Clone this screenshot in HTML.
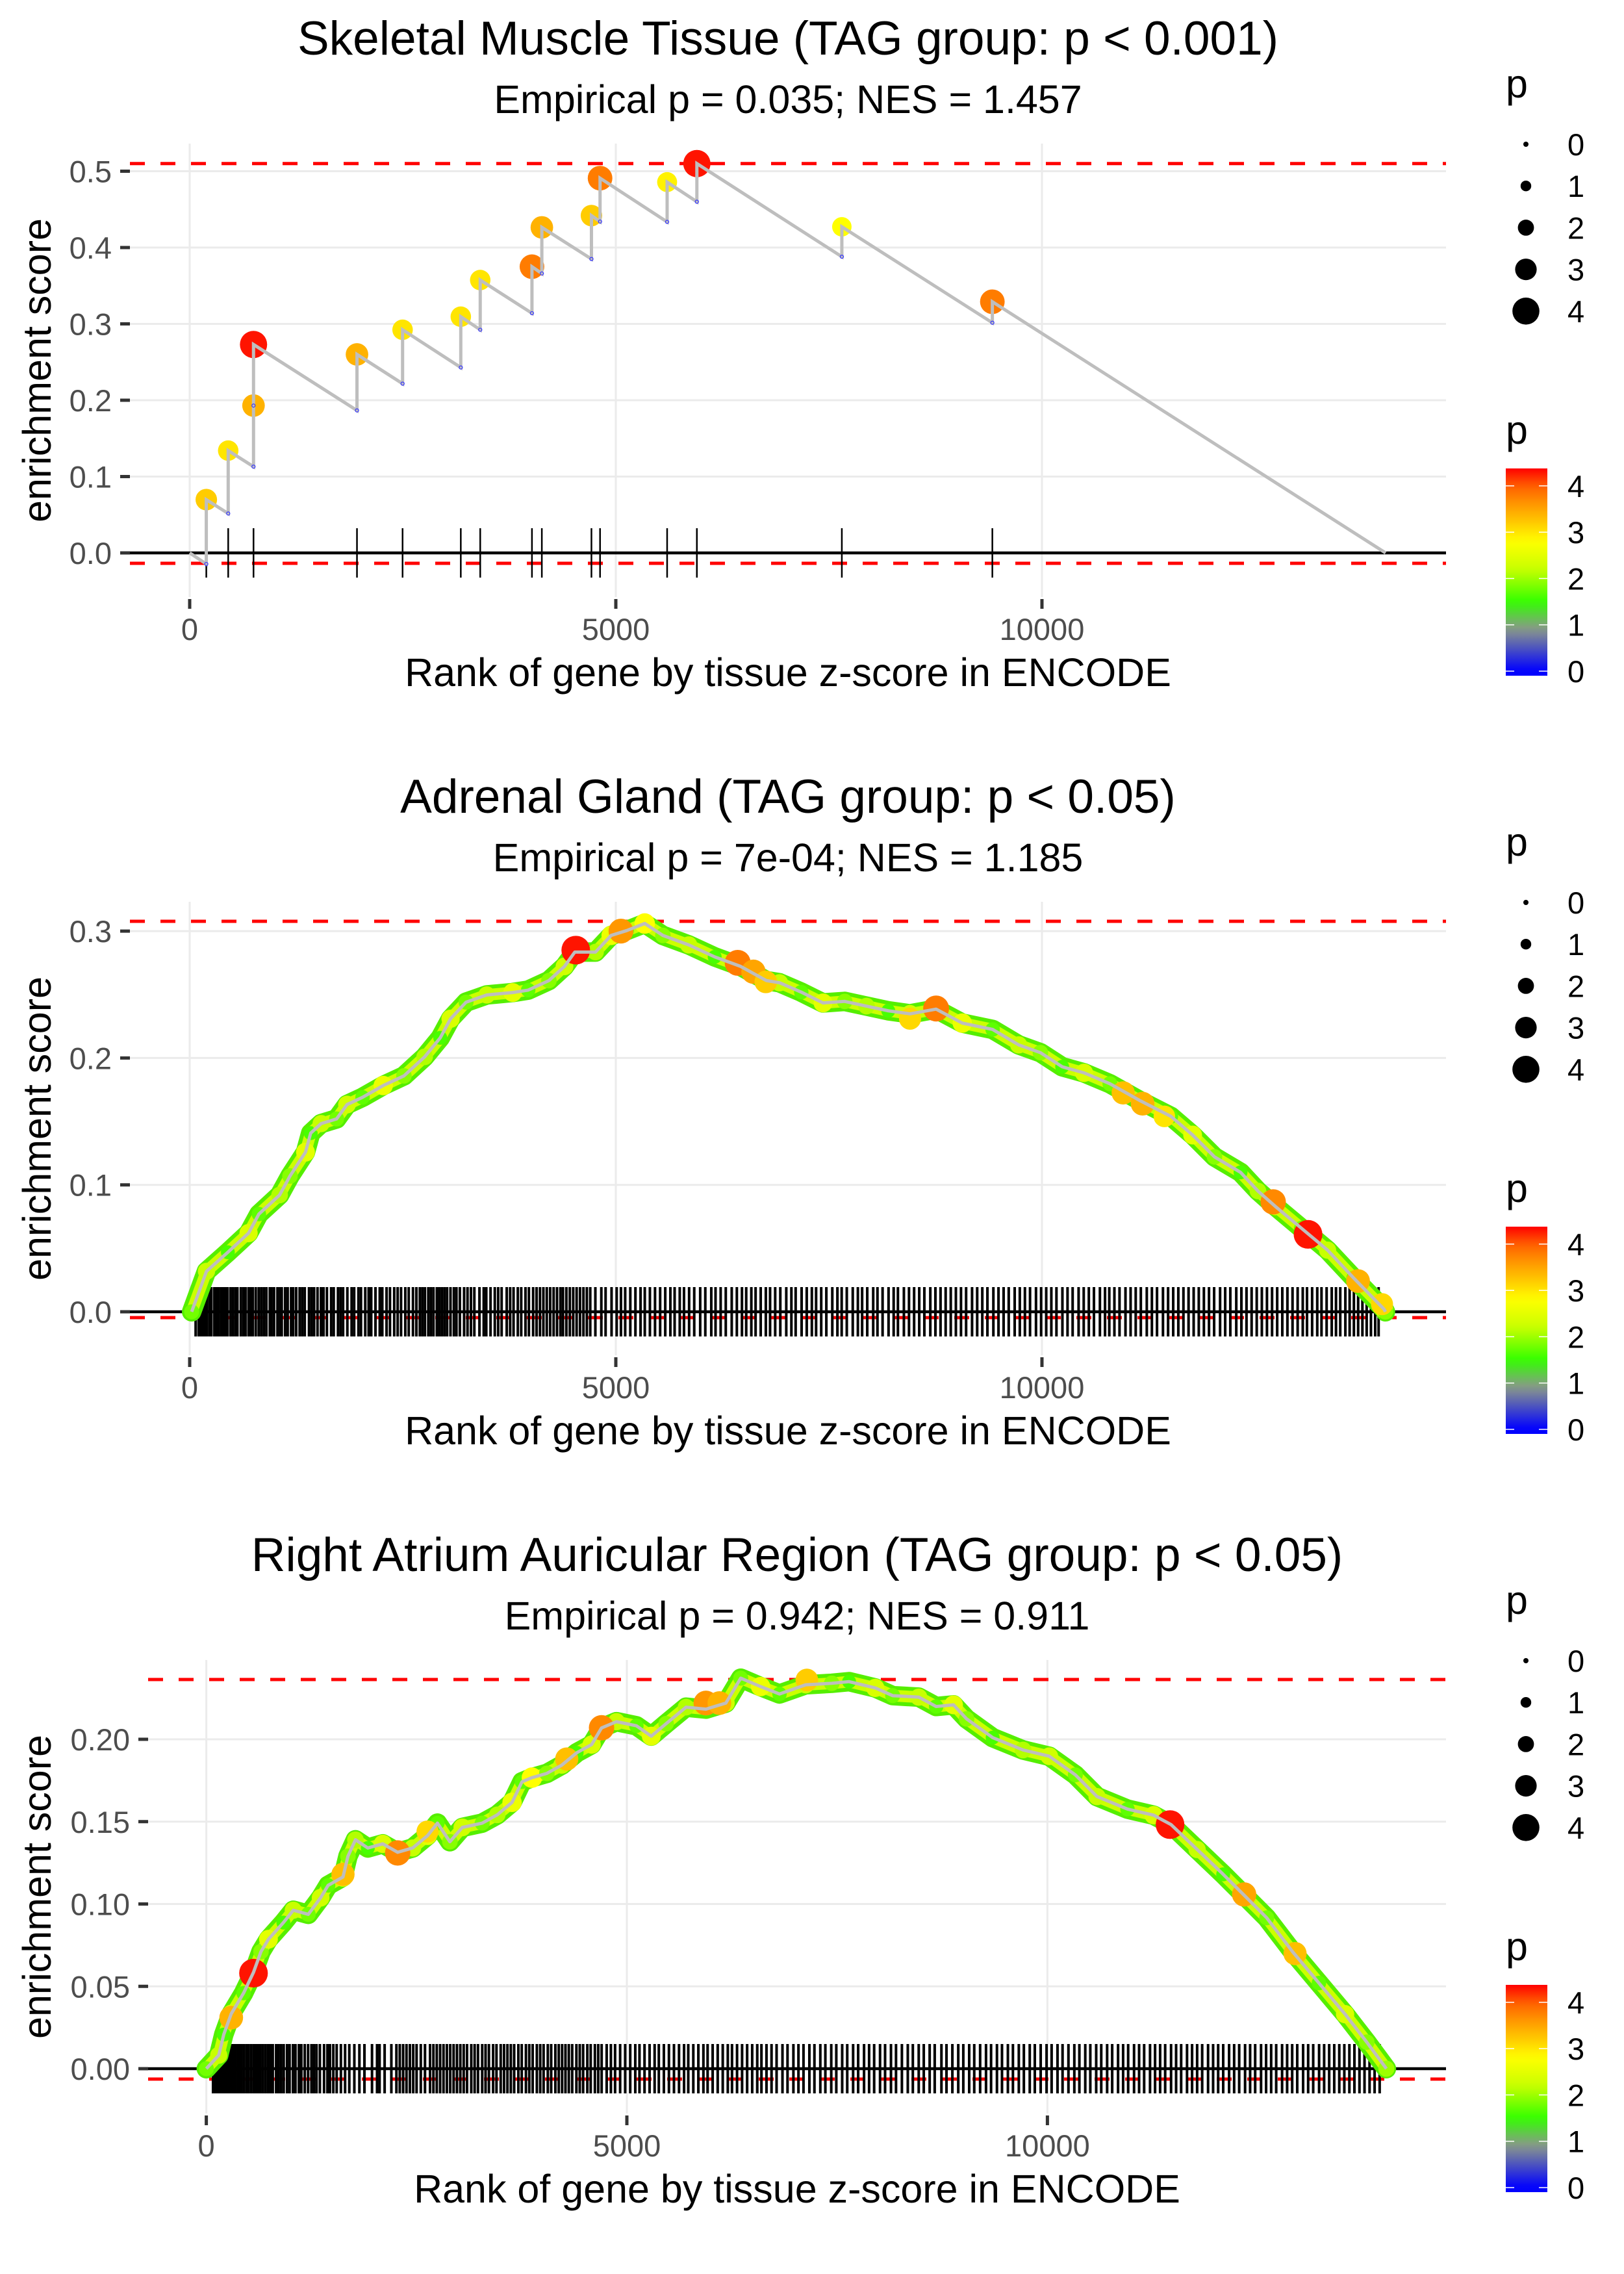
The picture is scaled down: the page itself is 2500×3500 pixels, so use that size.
<!DOCTYPE html>
<html><head><meta charset="utf-8"><style>
html,body{margin:0;padding:0;background:#fff;}
svg{display:block;font-family:"Liberation Sans",Arial,sans-serif;}
</style></head><body>
<svg id="chart" xmlns="http://www.w3.org/2000/svg" width="2500" height="3500" viewBox="0 0 2500 3500"></svg>
<script>
// ---------- Panel 1 data (Skeletal Muscle) ----------
const p1Rank=[195,452,749,749,1963,2498,3181,3409,4016,4132,4714,4815,5602,5951,7652,9418];
const p1Low=[-0.0145,0.0516,0.113,0.193,0.1866,0.2217,0.2429,0.2923,0.314,0.366,0.385,0.434,0.4336,0.46,0.388,0.3015];
const p1Hit=[0.0698,0.134,0.193,0.273,0.260,0.2923,0.3094,0.3574,0.3749,0.4264,0.4419,0.4909,0.4857,0.510,0.4272,0.329];
const p1P=[3.2,3.0,3.4,4.3,3.4,3.0,3.0,3.0,3.8,3.4,3.2,3.8,2.9,4.3,2.8,3.8];
const p1End=14032;
// ---------- Panel 2 data (Adrenal Gland) ----------
const p2Rank=[23,197,448,691,812,1055,1177,1359,1420,1542,1724,1846,2028,2271,2514,2757,2940,3061,3243,3486,3790,3972,4215,4398,4519,4762,4945,5127,5339,5552,5856,6160,6464,6767,6921,7176,7431,7686,7941,8197,8452,8758,9065,9421,9727,9982,10237,10493,10798,11156,11513,11768,12024,12330,12534,12739,13045,13351,13657,14014,14030];
const p2ES=[0,0.0319,0.0469,0.062,0.077,0.092,0.107,0.1258,0.1408,0.1483,0.152,0.1633,0.169,0.1783,0.1859,0.2009,0.2159,0.2309,0.244,0.2497,0.2516,0.2535,0.261,0.2722,0.2835,0.2835,0.2966,0.3004,0.306,0.2966,0.2891,0.2797,0.2722,0.261,0.2593,0.2519,0.2434,0.2446,0.2409,0.2372,0.2348,0.2385,0.2275,0.2225,0.2103,0.2042,0.1931,0.1883,0.1797,0.1662,0.154,0.1393,0.1221,0.1099,0.0952,0.083,0.0658,0.0486,0.0266,0.002,0];
const p2P=[1.8,2.2,1.6,2.4,1.7,2.1,1.9,2.5,1.6,2.2,1.8,2.3,1.7,2.6,1.9,2.1,1.6,2.4,1.8,2.2,2.5,1.7,1.9,2.3,1.8,2.1,2.6,1.7,2.8,1.9,2.2,1.6,2.4,1.8,2.2,1.7,2.5,1.9,2.1,1.6,2.3,1.8,2.6,1.7,2.2,1.9,1.6,2.4,1.8,2.2,1.7,2.5,1.9,1.6,2.1,2.3,1.8,2.2,1.7,2.4,1.9];
const p2HitRank=[4530,5060,6430,6615,6760,8452,8758,10953,11181,11436,12713,13122,13709,13990];
const p2HitES=[0.285,0.300,0.275,0.268,0.260,0.231,0.239,0.1725,0.164,0.154,0.0866,0.061,0.0242,0.006];
const p2HitP=[4.3,3.6,3.8,3.5,3.2,3.1,3.8,3.3,3.4,3.0,3.7,4.3,3.4,3.1];
const p2Rug=[70,105,130,160,185,200,230,255,290,320,340,370,400,425,445,480,510,540,560,600,630,655,690,720,740,775,810,840,870,900,940,960,990,1030,1060,1080,1120,1150,1190,1215,1250,1290,1320,1350,1400,1430,1460,1500,1540,1570,1610,1660,1690,1740,1770,1800,1850,1900,1930,1980,2010,2060,2100,2130,2180,2230,2260,2310,2350,2400,2440,2480,2530,2570,2620,2660,2700,2730,2760,2800,2830,2860,2900,2930,2960,2990,3020,3060,3100,3130,3170,3220,3260,3300,3340,3400,3450,3480,3530,3580,3620,3660,3720,3760,3800,3850,3890,3940,3980,4030,4070,4110,4150,4190,4230,4270,4310,4350,4380,4420,4460,4500,4540,4580,4620,4660,4700,4760,4830,4880,4950,5010,5060,5110,5170,5230,5290,5340,5400,5460,5520,5580,5640,5690,5750,5800,5860,5920,5990,6050,6120,6170,6230,6290,6360,6420,6480,6530,6590,6640,6700,6760,6810,6870,6930,7000,7060,7110,7180,7240,7300,7350,7410,7470,7540,7600,7650,7710,7780,7840,7890,7950,8020,8070,8130,8200,8260,8310,8380,8440,8500,8560,8620,8690,8750,8810,8870,8930,8990,9050,9110,9180,9240,9300,9360,9430,9490,9550,9610,9680,9740,9800,9860,9930,9990,10050,10110,10170,10240,10300,10360,10430,10490,10550,10610,10680,10740,10790,10850,10910,10980,11040,11100,11160,11230,11290,11350,11420,11480,11540,11600,11660,11720,11780,11840,11900,11960,12020,12090,12150,12210,12280,12340,12400,12460,12520,12580,12640,12700,12760,12820,12880,12940,13000,13060,13110,13170,13230,13280,13340,13400,13450,13500,13560,13610,13660,13710,13760,13810,13860,13910,13950];
// ---------- Panel 3 data (Right Atrium) ----------
const p3Rank=[0,148,207,296,443,561,650,739,916,1034,1212,1359,1448,1625,1684,1773,1920,2098,2275,2453,2630,2748,2896,3044,3280,3458,3635,3753,3871,4049,4226,4403,4581,4699,4876,5113,5290,5467,5704,5940,6177,6354,6590,6815,7126,7436,7642,7953,8160,8470,8677,8884,9039,9349,9711,10022,10332,10590,10952,11263,11470,11780,12090,12349,12607,12918,13228,13539,13797,14030];
const p3ES=[0,0.0082,0.0207,0.0333,0.0459,0.0585,0.0711,0.0786,0.0887,0.0962,0.0937,0.1038,0.1113,0.1164,0.129,0.139,0.134,0.1365,0.1314,0.134,0.1415,0.1491,0.1378,0.1465,0.1491,0.1541,0.1617,0.1742,0.1767,0.1793,0.1843,0.1918,0.1968,0.2069,0.2107,0.2082,0.2019,0.2095,0.2195,0.2183,0.222,0.2371,0.232,0.2275,0.2331,0.234,0.235,0.2312,0.2265,0.2256,0.2199,0.2209,0.2124,0.201,0.1935,0.1897,0.1784,0.1652,0.1576,0.1539,0.1482,0.1331,0.118,0.1048,0.0916,0.0708,0.052,0.0331,0.0161,0];
const p3P=[1.8,2.2,1.6,2.4,1.7,2.1,1.9,2.5,1.6,2.2,1.8,2.3,1.7,2.6,1.9,2.1,1.6,2.4,1.8,2.2,2.5,1.7,1.9,2.3,1.8,2.1,2.6,1.7,2.8,1.9,2.2,1.6,2.4,1.8,2.2,1.7,2.5,1.9,2.1,1.6,2.3,1.8,2.6,1.7,2.2,1.9,1.6,2.4,1.8,2.2,1.7,2.5,1.9,1.6,2.1,2.3,1.8,2.2,1.7,2.4,1.9,2.2,1.6,2.3,1.8,2.1,1.7,2.4,1.9,2.0];
const p3HitRank=[296,561,1625,2275,2630,4285,4699,5940,6100,7140,11458,12339,12944];
const p3HitES=[0.031,0.058,0.118,0.131,0.144,0.188,0.207,0.222,0.222,0.236,0.1482,0.1058,0.0699];
const p3HitP=[3.4,4.3,3.3,3.7,3.1,3.3,3.7,3.6,3.4,3.2,4.3,3.5,3.3];
const p3Rug=[80,100,115,130,145,160,175,190,205,220,240,255,270,290,305,320,340,370,395,420,450,480,500,530,560,590,610,640,670,700,730,760,790,830,860,890,920,960,990,1030,1060,1100,1130,1170,1210,1250,1280,1310,1350,1400,1440,1470,1510,1550,1600,1650,1700,1760,1820,1880,1970,2030,2060,2120,2200,2260,2300,2340,2380,2420,2460,2500,2550,2600,2660,2700,2740,2780,2820,2860,2900,2940,2980,3020,3060,3100,3150,3190,3230,3280,3320,3360,3410,3450,3500,3540,3580,3620,3660,3710,3750,3800,3840,3880,3930,3970,4010,4060,4100,4150,4190,4230,4270,4310,4350,4400,4440,4480,4530,4570,4620,4660,4700,4760,4810,4860,4920,4980,5040,5100,5150,5210,5270,5330,5380,5440,5500,5560,5620,5680,5730,5790,5850,5910,5960,6020,6080,6140,6200,6250,6310,6370,6430,6490,6550,6600,6660,6720,6780,6850,6910,6980,7040,7100,7170,7230,7300,7360,7430,7490,7560,7620,7690,7750,7820,7880,7940,8010,8070,8140,8200,8270,8340,8400,8470,8530,8600,8660,8740,8800,8870,8940,9000,9070,9130,9200,9270,9330,9400,9460,9530,9590,9660,9720,9790,9850,9920,9990,10050,10120,10180,10250,10320,10380,10450,10510,10580,10640,10710,10770,10840,10900,10960,11030,11090,11150,11220,11280,11340,11400,11470,11530,11590,11660,11720,11780,11840,11910,11970,12030,12090,12160,12220,12280,12350,12410,12470,12540,12600,12660,12720,12790,12850,12910,12970,13040,13100,13160,13230,13290,13350,13410,13470,13530,13590,13650,13710,13770,13830,13890,13950];
// ---------- Legend values ----------
const legendSizes=[0,1,2,3,4];
const colorbarTicks=[0,1,2,3,4];

const NS="http://www.w3.org/2000/svg";
const svg=document.getElementById('chart');
function mk(tag,attrs,parent,text){const e=document.createElementNS(NS,tag);for(const k in attrs)e.setAttribute(k,attrs[k]);if(text!==undefined)e.textContent=text;(parent||svg).appendChild(e);return e;}

const stops=[[0,[0,0,255]],[0.9,[138,150,140]],[1.5,[51,255,0]],[2.2,[200,255,0]],[2.8,[255,255,0]],[3.5,[255,165,0]],[4.0,[255,96,0]],[4.38,[255,0,0]]];
function pcol(p){
  if(p<=stops[0][0])return 'rgb(0,0,255)';
  for(let i=1;i<stops.length;i++){if(p<=stops[i][0]){const a=stops[i-1],b=stops[i];const t=(p-a[0])/(b[0]-a[0]);const c=a[1].map((v,j)=>Math.round(v+(b[1][j]-v)*t));return 'rgb('+c.join(',')+')';}}
  return 'rgb(255,0,0)';
}
function prad(p){return 4+4.2*p;}

function panel(cfg){
  const g=mk('g',{});
  
  
  const sx=r=>cfg.X0+r*cfg.kx, sy=v=>cfg.Y0-v*cfg.ky;
  const R=2226;
  cfg.yticks.forEach((v,i)=>{
    const l=mk('line',{x1:cfg.left,x2:R,y1:sy(v),y2:sy(v),stroke:'#ebebeb','stroke-width':3},g);
    
    
    const t=mk('line',{x1:cfg.left-15,x2:cfg.left,y1:sy(v),y2:sy(v),stroke:'#333','stroke-width':5},g);
    
    
    const tx=mk('text',{x:cfg.left-28,y:sy(v)+17,'text-anchor':'end','font-size':47,fill:'#4d4d4d'},g,cfg.ylabels[i]);
    
    
  });
  [0,5000,10000].forEach(r=>{
    const l=mk('line',{x1:sx(r),x2:sx(r),y1:cfg.top,y2:cfg.top+698,stroke:'#ebebeb','stroke-width':3},g);
    
    
    const t=mk('line',{x1:sx(r),x2:sx(r),y1:cfg.top+701,y2:cfg.top+716,stroke:'#333','stroke-width':5},g);
    
    
    const tx=mk('text',{x:sx(r),y:cfg.top+764,'text-anchor':'middle','font-size':47,fill:'#4d4d4d'},g,String(r));
    
    
  });
  [cfg.redTop,cfg.redBot].forEach(v=>{
    const l=mk('line',{x1:cfg.left,x2:R,y1:sy(v),y2:sy(v),stroke:'#ff0000','stroke-width':5,'stroke-dasharray':'23 24'},g);
    
    
  });
  const z=mk('line',{x1:cfg.left,x2:R,y1:sy(0),y2:sy(0),stroke:'#000','stroke-width':4.5},g);
  
  
  const rug=mk('g',{},g);
  
  
  cfg.rug.forEach(r=>{
    const l=mk('line',{x1:sx(r),x2:sx(r),y1:sy(0)-38,y2:sy(0)+38,stroke:'#000','stroke-width':cfg.rugW},rug);
    
    
  });
  cfg.draw(g,sx,sy);
  const cx=(cfg.left+R)/2;
  const t1=mk('text',{x:cx,y:cfg.top-137,'text-anchor':'middle','font-size':73,fill:'#000'},g,cfg.title);
  
  
  const t2=mk('text',{x:cx,y:cfg.top-47,'text-anchor':'middle','font-size':61,fill:'#000'},g,cfg.sub);
  
  
  const xt=mk('text',{x:cx,y:cfg.top+835,'text-anchor':'middle','font-size':61,fill:'#000'},g,'Rank of gene by tissue z-score in ENCODE');
  
  
  const ym=cfg.top+349;
  const yt=mk('text',{x:78,y:ym,'text-anchor':'middle','font-size':61,fill:'#000',transform:'rotate(-90 78 '+ym+')'},g,'enrichment score');
  
  
  legend(cfg.dy);
}

function curveDraw(ranks,es,ps,hr,he,hp){
  return function(g,sx,sy){
    const pts=ranks.map((r,i)=>sx(r)+','+sy(es[i])).join(' ');
    const band=mk('polyline',{points:pts,fill:'none',stroke:'#55ee00','stroke-width':30,'stroke-linejoin':'round','stroke-linecap':'round'},g);
    
    
    const band2=mk('polyline',{points:pts,fill:'none',stroke:'#ccff00','stroke-width':18,'stroke-linejoin':'round','stroke-linecap':'round'},g);
    
    
    ranks.forEach((r,i)=>{
      const c=mk('circle',{cx:sx(r),cy:sy(es[i]),r:prad(ps[i]),fill:pcol(ps[i])},g);
      
      
    });
    hr.forEach((r,i)=>{
      const c=mk('circle',{cx:sx(r),cy:sy(he[i]),r:prad(hp[i]),fill:pcol(hp[i])},g);
      
      
    });
    const line=mk('polyline',{points:pts,fill:'none',stroke:'#bebebe','stroke-width':5,'stroke-linejoin':'round'},g);
    
    
  };
}

function legend(dy){
  const lg=mk('g',{});
  
  
  mk('text',{x:2318,y:150+dy,'font-size':61,fill:'#000'},lg,'p');
  legendSizes.forEach((p,i)=>{
    const y=222+dy+i*64.2;
    const c=mk('circle',{cx:2349,cy:y,r:prad(p),fill:'#000'},lg);
    
    
    mk('text',{x:2413,y:y+17,'font-size':47,fill:'#000'},lg,String(p));
  });
  const cb=mk('g',{});
  
  
  mk('text',{x:2318,y:683+dy,'font-size':61,fill:'#000'},cb,'p');
  const gid='cbg'+dy;
  const defs=mk('defs',{},cb);
  const lgd=mk('linearGradient',{id:gid,x1:0,y1:1,x2:0,y2:0},defs);
  const vmin=-0.1,vmax=4.38;
  for(let k=0;k<=30;k++){const v=vmin+(vmax-vmin)*k/30;mk('stop',{offset:(k/30),'stop-color':pcol(v)},lgd);}
  const bar=mk('rect',{x:2318,y:721+dy,width:64,height:319,fill:'url(#'+gid+')'},cb);
  
  
  colorbarTicks.forEach(v=>{
    const y=1033+dy-v*71.3;
    mk('line',{x1:2318,x2:2331,y1:y,y2:y,stroke:'#fff','stroke-width':1.5},cb);
    mk('line',{x1:2369,x2:2382,y1:y,y2:y,stroke:'#fff','stroke-width':1.5},cb);
    mk('text',{x:2413,y:y+17,'font-size':47,fill:'#000'},cb,String(v));
  });
}

panel({name:'panel-skeletal-muscle',dy:0,top:221,left:200,X0:292,kx:0.1312,Y0:851,ky:1175,
  yticks:[0,0.1,0.2,0.3,0.4,0.5],ylabels:['0.0','0.1','0.2','0.3','0.4','0.5'],
  redTop:0.510,redBot:-0.0136,rug:p1Rank,rugW:2.5,
  title:'Skeletal Muscle Tissue (TAG group: p < 0.001)',sub:'Empirical p = 0.035; NES = 1.457',
  draw:function(g,sx,sy){
    const pts=[[0,0]];
    p1Rank.forEach((r,i)=>{pts.push([r,p1Low[i]]);pts.push([r,p1Hit[i]]);});
    pts.push([p1End,0]);
    p1Rank.forEach((r,i)=>{
      const c=mk('circle',{cx:sx(r),cy:sy(p1Hit[i]),r:prad(p1P[i])*0.95,fill:pcol(p1P[i])},g);
      
      
    });
    const line=mk('polyline',{points:pts.map(p=>sx(p[0])+','+sy(p[1])).join(' '),fill:'none',stroke:'#bebebe','stroke-width':5},g);
    
    
    p1Rank.forEach((r,i)=>{
      const c=mk('circle',{cx:sx(r),cy:sy(p1Low[i]),r:2.5,fill:'none',stroke:'#3333ff','stroke-width':1.2},g);
      
      
    });
  }});
panel({name:'panel-adrenal-gland',dy:1167,top:1388,left:200,X0:292,kx:0.1312,Y0:2019,ky:1953,
  yticks:[0,0.1,0.2,0.3],ylabels:['0.0','0.1','0.2','0.3'],
  redTop:0.3077,redBot:-0.0046,rug:p2Rug,rugW:4,
  title:'Adrenal Gland (TAG group: p < 0.05)',sub:'Empirical p = 7e-04; NES = 1.185',
  draw:curveDraw(p2Rank,p2ES,p2P,p2HitRank,p2HitES,p2HitP)});
panel({name:'panel-right-atrium',dy:2334,top:2555,left:228,X0:317.6,kx:0.12948,Y0:3184,ky:2535,
  yticks:[0,0.05,0.1,0.15,0.2],ylabels:['0.00','0.05','0.10','0.15','0.20'],
  redTop:0.2363,redBot:-0.0063,rug:p3Rug,rugW:4,
  title:'Right Atrium Auricular Region (TAG group: p < 0.05)',sub:'Empirical p = 0.942; NES = 0.911',
  draw:curveDraw(p3Rank,p3ES,p3P,p3HitRank,p3HitES,p3HitP)});
</script>
</body></html>
